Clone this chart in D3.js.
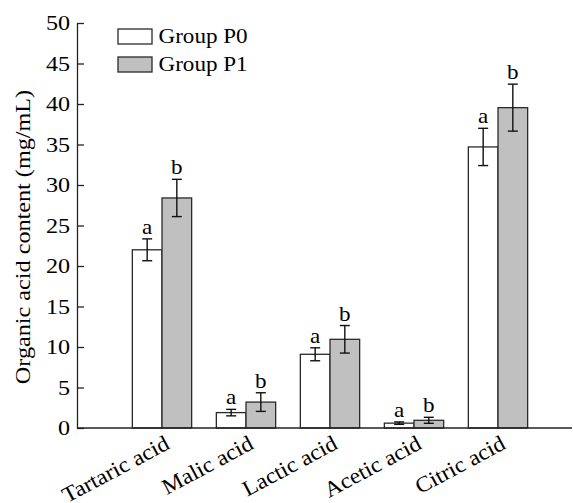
<!DOCTYPE html>
<html>
<head>
<meta charset="utf-8">
<script src="https://cdn.jsdelivr.net/npm/d3@7"></script>
<style>
  body { margin: 0; background: #fff; }
  text { font-family: "Liberation Serif", "Times New Roman", serif; fill: #000; }
</style>
</head>
<body>
<svg id="chart" width="573" height="503"></svg>
<script>
const categories = ["Tartaric acid", "Malic acid", "Lactic acid", "Acetic acid", "Citric acid"];
const groups = ["Group P0", "Group P1"];
const p0Values = [22.0, 1.9, 9.1, 0.6, 34.7];
const p0Errors = [1.35, 0.4, 0.8, 0.15, 2.3];
const p1Values = [28.4, 3.2, 10.95, 0.95, 39.55];
const p1Errors = [2.3, 1.15, 1.7, 0.37, 2.9];
const p0Letters = ["a", "a", "a", "a", "a"];
const p1Letters = ["b", "b", "b", "b", "b"];
const yTicks = [0, 5, 10, 15, 20, 25, 30, 35, 40, 45, 50];
const yTitle = "Organic acid content (mg/mL)";

const fills = ["#ffffff", "#c0c0c0"];

const svg = d3.select("#chart");

const axisLeft = 77, axisRight = 572, axisBottom = 428, axisTop = 23;

const y = d3.scaleLinear().domain([0, 50]).range([axisBottom, axisTop]);

const x0 = d3.scaleBand()
  .domain(categories)
  .range([120, 540])
  .paddingInner(0.294)
  .paddingOuter(0.147);

const x1 = d3.scaleBand().domain(groups).range([0, x0.bandwidth()]);

// rows: one per bar
const rows = [];
categories.forEach((c, i) => {
  rows.push({ cat: c, group: groups[0], value: p0Values[i], err: p0Errors[i], letter: p0Letters[i] });
  rows.push({ cat: c, group: groups[1], value: p1Values[i], err: p1Errors[i], letter: p1Letters[i] });
});
const color = d3.scaleOrdinal().domain(groups).range(fills);

// bars
svg.append("g")
  .selectAll("rect")
  .data(rows)
  .join("rect")
  .attr("x", d => x0(d.cat) + x1(d.group))
  .attr("y", d => y(d.value))
  .attr("width", x1.bandwidth())
  .attr("height", d => y(0) - y(d.value))
  .attr("fill", d => color(d.group))
  .attr("stroke", "#2a2a2a")
  .attr("stroke-width", 1.3);

// error bars
const cap = 5;
const eb = svg.append("g")
  .selectAll("g")
  .data(rows)
  .join("g")
  .attr("transform", d => `translate(${x0(d.cat) + x1(d.group) + x1.bandwidth() / 2},0)`)
  .attr("stroke", "#111")
  .attr("stroke-width", 1.4);

eb.append("line")
  .attr("x1", 0).attr("x2", 0)
  .attr("y1", d => y(d.value - d.err))
  .attr("y2", d => y(d.value + d.err));
eb.append("line")
  .attr("x1", -cap).attr("x2", cap)
  .attr("y1", d => y(d.value + d.err))
  .attr("y2", d => y(d.value + d.err));
eb.append("line")
  .attr("x1", -cap).attr("x2", cap)
  .attr("y1", d => y(d.value - d.err))
  .attr("y2", d => y(d.value - d.err));

// significance letters
svg.append("g")
  .selectAll("g")
  .data(rows)
  .join("g")
  .attr("transform", d => `translate(${x0(d.cat) + x1(d.group) + x1.bandwidth() / 2},${y(d.value + d.err) - 5})`)
  .append("text")
  .attr("text-anchor", "middle")
  .attr("font-size", 21)
  .attr("transform", "scale(1.1,1)")
  .text(d => d.letter);

// y axis, ticks pointing inward
const yAxisG = svg.append("g")
  .attr("transform", `translate(${axisLeft},0)`)
  .call(d3.axisLeft(y).tickValues(yTicks).tickSizeInner(-7).tickSizeOuter(0).tickPadding(6));
yAxisG.select(".domain").attr("stroke", "#222").attr("stroke-width", 1.3);
yAxisG.selectAll(".tick line").attr("stroke", "#222").attr("stroke-width", 1.3);
yAxisG.selectAll(".tick text")
  .attr("font-size", 21)
  .attr("font-family", null)
  .attr("fill", null)
  .attr("transform", "scale(1.15,1)");

// x axis baseline, no ticks
svg.append("line")
  .attr("x1", axisLeft).attr("x2", axisRight)
  .attr("y1", y(0)).attr("y2", y(0))
  .attr("stroke", "#222")
  .attr("stroke-width", 1.3);

// category labels
svg.append("g")
  .selectAll("g")
  .data(categories)
  .join("g")
  .attr("transform", d => `translate(${x0(d) + x0.bandwidth() / 2 + 9},448) rotate(-28)`)
  .append("text")
  .attr("text-anchor", "end")
  .attr("font-size", 22)
  .attr("transform", "scale(1.07,1)")
  .text(d => d);

// y title
svg.append("g")
  .attr("transform", `translate(29.5,237) rotate(-90)`)
  .append("text")
  .attr("text-anchor", "middle")
  .attr("font-size", 22)
  .attr("transform", "scale(1.1,1)")
  .text(yTitle);

// legend
const legend = svg.append("g")
  .selectAll("g")
  .data(groups)
  .join("g")
  .attr("transform", (d, i) => `translate(118,${29 + i * 28})`);
legend.append("rect")
  .attr("width", 34).attr("height", 15)
  .attr("fill", d => color(d))
  .attr("stroke", "#2a2a2a")
  .attr("stroke-width", 1.3);
legend.append("g")
  .attr("transform", "translate(40.5,14)")
  .append("text")
  .attr("font-size", 22)
  .attr("transform", "scale(1.05,1)")
  .text(d => d);
</script>
</body>
</html>
